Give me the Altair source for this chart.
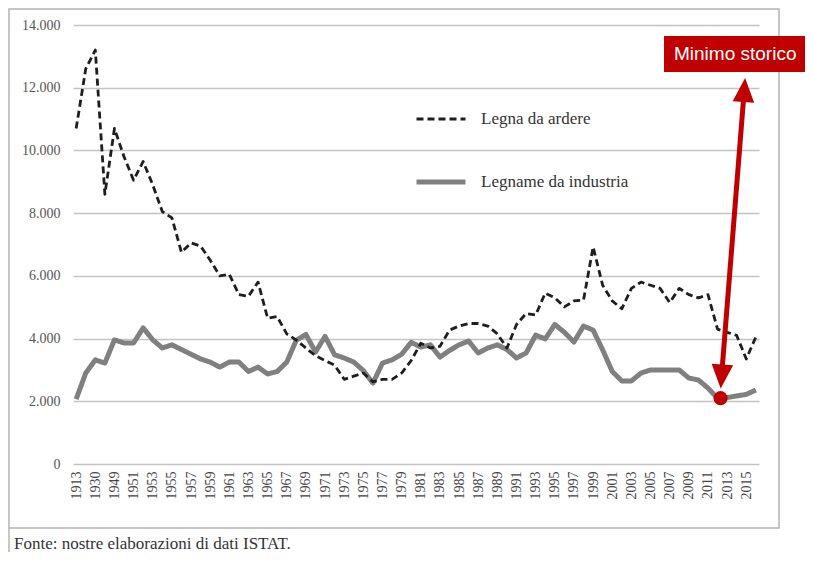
import altair as alt
import pandas as pd

# ---------------- data ----------------
years = ["1913", "1920", "1930", "1948",
         "1949", "1950", "1951", "1952", "1953", "1954", "1955", "1956", "1957", "1958",
         "1959", "1960", "1961", "1962", "1963", "1964", "1965", "1966", "1967", "1968",
         "1969", "1970", "1971", "1972", "1973", "1974", "1975", "1976", "1977", "1978",
         "1979", "1980", "1981", "1982", "1983", "1984", "1985", "1986", "1987", "1988",
         "1989", "1990", "1991", "1992", "1993", "1994", "1995", "1996", "1997", "1998",
         "1999", "2000", "2001", "2002", "2003", "2004", "2005", "2006", "2007", "2008",
         "2009", "2010", "2011", "2012", "2013", "2014", "2015", "2016"]

legna_da_ardere = [10700, 12600, 13200, 8600,
                   10700, 9800, 9050, 9650, 8900, 8050, 7850, 6750, 7050, 6950,
                   6500, 6000, 6050, 5400, 5350, 5800, 4650, 4700, 4150, 3950,
                   3700, 3450, 3300, 3150, 2700, 2800, 2900, 2620, 2700, 2700,
                   2900, 3300, 3850, 3700, 3750, 4270, 4400, 4480, 4480, 4400,
                   4150, 3700, 4450, 4800, 4750, 5450, 5300, 5010, 5200, 5230,
                   6920, 5700, 5200, 4950, 5600, 5800, 5700, 5600, 5150, 5600,
                   5400, 5300, 5400, 4300, 4200, 4100, 3350, 4050]

legname_da_industria = [2070, 2900, 3320, 3220,
                        3960, 3860, 3860, 4340, 3960, 3700, 3800, 3650, 3500, 3350,
                        3250, 3090, 3250, 3250, 2950, 3090, 2870, 2950, 3250, 3950,
                        4130, 3570, 4070, 3480, 3380, 3250, 2980, 2580, 3220, 3320,
                        3500, 3880, 3730, 3800, 3410, 3620, 3800, 3920, 3540, 3700,
                        3800, 3650, 3380, 3540, 4110, 3990, 4450, 4200, 3890, 4400,
                        4270, 3640, 2950, 2650, 2650, 2900, 3000, 3000, 3000, 3000,
                        2740, 2680, 2420, 2100, 2120, 2170, 2220, 2360]

series_names = ["Legna da ardere", "Legname da industria"]
series_colors = ["#1e1e1e", "#808080"]
y_ticks = [0, 2000, 4000, 6000, 8000, 10000, 12000, 14000]
label_years = years[::2]

min_year = ["2012"]
min_value = [2100]
arrow_from_year = ["2012"]
arrow_to_year = ["2015"]
arrow_from_value = [2790]
arrow_to_value = [11930]
annotation_text = ["Minimo storico"]
source_text = ["Fonte: nostre elaborazioni di dati ISTAT."]

RED = "#c00000"

# ---------------- tables ----------------
n = len(years)
df = pd.DataFrame({
    "year": years + years,
    "value": legname_da_industria + legna_da_ardere,
    "series": [series_names[1]] * n + [series_names[0]] * n,
})

x_scale = alt.Scale(type="point", domain=years, padding=0.33)
y_scale = alt.Scale(domain=[0, 14000], nice=False)

leg = alt.Legend(title=None, orient="none", legendX=341, legendY=68)

lines = alt.Chart(df).mark_line(strokeJoin="round").encode(
    x=alt.X("year:N", scale=x_scale, sort=years, title=None,
            axis=alt.Axis(values=label_years, labelAngle=-90, labelOverlap=False,
                          ticks=False, domain=False, grid=False, labelPadding=7,
                          labelFont="Liberation Serif", labelFontSize=14,
                          labelColor="#444444")),
    y=alt.Y("value:Q", scale=y_scale, title=None,
            axis=alt.Axis(values=y_ticks, ticks=False, domain=False, grid=True,
                          gridColor="#c4c4c4", gridWidth=1.5, labelPadding=13,
                          labelExpr="replace(format(datum.value, ','), ',', '.')",
                          labelFont="Liberation Serif", labelFontSize=14,
                          labelColor="#555555")),
    color=alt.Color("series:N", scale=alt.Scale(domain=series_names, range=series_colors), legend=leg),
    strokeDash=alt.StrokeDash("series:N", scale=alt.Scale(domain=series_names, range=[[7, 4], [1, 0]]), legend=leg),
    strokeWidth=alt.StrokeWidth("series:N", scale=alt.Scale(domain=series_names, range=[2.8, 5]), legend=leg),
    detail="series:N",
)

one = pd.DataFrame({"a": [0]})

frame = alt.Chart(one).mark_rect(fillOpacity=0, stroke="#b4b4b4", strokeWidth=1.5).encode(
    x=alt.value(-64), x2=alt.value(706), y=alt.value(-16), y2=alt.value(503))

frame_ext = alt.Chart(one).mark_rule(stroke="#b4b4b4", strokeWidth=1.5).encode(
    x=alt.value(-64), y=alt.value(503), y2=alt.value(540))

source = alt.Chart(pd.DataFrame({"t": source_text})).mark_text(
    align="left", baseline="alphabetic", font="Liberation Serif", fontSize=17, color="#333333"
).encode(x=alt.value(-59), y=alt.value(524), text="t:N")

arrow_df = pd.DataFrame({"x": arrow_from_year, "x2": arrow_to_year,
                         "y": arrow_from_value, "y2": arrow_to_value})
arrow = alt.Chart(arrow_df).mark_rule(color=RED, strokeWidth=5, xOffset=4, x2Offset=-2).encode(
    x=alt.X("x:N", scale=x_scale, title=None), x2="x2:N",
    y=alt.Y("y:Q", scale=y_scale, title=None), y2="y2:Q")

head_up = alt.Chart(pd.DataFrame({"x": arrow_to_year, "y": arrow_to_value})).mark_point(
    shape="M0,-1L0.9,1L-0.9,1Z", filled=True, color=RED, opacity=1, size=576, angle=4, xOffset=-2
).encode(x=alt.X("x:N", scale=x_scale, title=None), y=alt.Y("y:Q", scale=y_scale, title=None))

head_down = alt.Chart(pd.DataFrame({"x": arrow_from_year, "y": arrow_from_value})).mark_point(
    shape="M0,1L0.9,-1L-0.9,-1Z", filled=True, color=RED, opacity=1, size=576, angle=4, xOffset=4
).encode(x=alt.X("x:N", scale=x_scale, title=None), y=alt.Y("y:Q", scale=y_scale, title=None))

dot = alt.Chart(pd.DataFrame({"x": min_year, "y": min_value})).mark_circle(
    color=RED, opacity=1, size=200, xOffset=3
).encode(x=alt.X("x:N", scale=x_scale, title=None), y=alt.Y("y:Q", scale=y_scale, title=None))

box = alt.Chart(one).mark_rect(color=RED).encode(
    x=alt.value(591), x2=alt.value(745), y=alt.value(11), y2=alt.value(47))

box_text = alt.Chart(pd.DataFrame({"t": annotation_text})).mark_text(
    align="left", baseline="middle", font="Liberation Sans", fontSize=19, color="white"
).encode(x=alt.value(601), y=alt.value(29), text="t:N")

chart = alt.layer(
    lines, frame, frame_ext, source, arrow, head_up, head_down, dot, box, box_text
).properties(
    width=686, height=439,
    autosize=alt.AutoSizeParams(type="none"),
    padding={"left": 65, "top": 17, "right": 46, "bottom": 88},
    background="white",
).configure_view(strokeWidth=0).configure_legend(
    symbolType="stroke", symbolSize=2401, labelFont="Liberation Serif", labelFontSize=17,
    labelColor="#333333", labelOffset=13, rowPadding=28, padding=0, labelLimit=0
)

chart.save("out.html", embed_options={"renderer": "svg", "actions": False})
